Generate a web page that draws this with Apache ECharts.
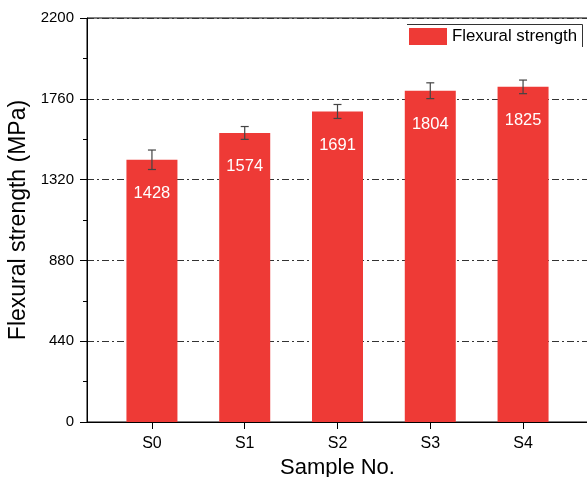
<!DOCTYPE html>
<html>
<head>
<meta charset="utf-8">
<script src="https://cdn.jsdelivr.net/npm/echarts@6/dist/echarts.min.js"></script>
<style>
html,body{margin:0;padding:0;background:#fff;}
#c{width:587px;height:477px;}
</style>
</head>
<body>
<div id="c"></div>
<script>
const categories = ['S0', 'S1', 'S2', 'S3', 'S4'];
const strength = [1428, 1574, 1691, 1804, 1825];
const errors = [53, 35, 38, 43, 37];
const yTicks = [0, 440, 880, 1320, 1760, 2200];

const FONT = "'Liberation Sans', Arial, sans-serif";
const barData = strength.map((v, i) => [i, v]);
const errData = strength.map((v, i) => [i, v - errors[i], v + errors[i]]);

const chart = echarts.init(document.getElementById('c'));
chart.setOption({
  animation: false,
  backgroundColor: '#fff',
  textStyle: { fontFamily: FONT },
  grid: {
    left: 87, right: -1, top: 18, bottom: 55,
    outerBoundsMode: 'none',
    containLabel: false,
    show: true, borderColor: '#000', borderWidth: 1, backgroundColor: 'transparent'
  },
  legend: {
    data: ['Flexural strength'],
    left: 409, top: 28,
    itemWidth: 38, itemHeight: 17,
    icon: 'rect',
    padding: 0,
    textStyle: { fontSize: 16.8, color: '#000', fontFamily: FONT }
  },
  graphic: [
    { type: 'polyline', shape: { points: [[407, 24.5], [582.5, 24.5], [582.5, 47]] },
      style: { stroke: '#333', lineWidth: 1, fill: null }, silent: true }
  ],
  xAxis: {
    type: 'value',
    min: -0.7, max: 4.7,
    name: 'Sample No.',
    nameLocation: 'middle',
    nameGap: 34,
    nameTextStyle: { fontSize: 22, color: '#000', fontFamily: FONT },
    axisLine: { show: true, onZero: false, lineStyle: { color: '#000', width: 1 } },
    axisTick: { show: true, length: 7, inside: false, customValues: [0, 1, 2, 3, 4], lineStyle: { color: '#000' } },
    axisLabel: {
      customValues: [0, 1, 2, 3, 4],
      formatter: v => categories[Math.round(v)],
      fontSize: 16, color: '#000', margin: 14, fontFamily: FONT
    },
    splitLine: { show: false }
  },
  yAxis: {
    type: 'value',
    min: 0, max: 2200, interval: 440,
    name: 'Flexural strength (MPa)',
    nameLocation: 'middle',
    nameGap: 54,
    nameRotate: 90,
    nameTextStyle: { fontSize: 23, color: '#000', fontFamily: FONT },
    axisLine: { show: true, onZero: false, lineStyle: { color: '#000', width: 1 } },
    axisTick: { show: true, length: 7, inside: false, lineStyle: { color: '#000' } },
    minorTick: { show: true, splitNumber: 2, length: 4, lineStyle: { color: '#000' } },
    axisLabel: { fontSize: 15, color: '#000', margin: 13, fontFamily: FONT,
      formatter: v => (yTicks.indexOf(v) >= 0 ? String(v) : '') },
    splitLine: { show: true, lineStyle: { color: '#333', width: 1, type: [7, 3, 2, 3] } }
  },
  series: [
    {
      name: 'Flexural strength',
      type: 'bar',
      data: barData,
      barWidth: 51,
      itemStyle: { color: '#EE3A36' },
      label: {
        show: true, position: 'insideTop', distance: 25,
        color: '#fff', fontSize: 16.5, fontFamily: FONT,
        formatter: p => String(p.value[1])
      },
      z: 2
    },
    {
      name: 'error',
      type: 'custom',
      data: errData,
      z: 3,
      renderItem: function (params, api) {
        const x = api.value(0);
        const lo = api.coord([x, api.value(1)]);
        const hi = api.coord([x, api.value(2)]);
        const hw = 4;
        const style = { stroke: '#444', lineWidth: 1.2 };
        return {
          type: 'group',
          children: [
            { type: 'line', shape: { x1: lo[0], y1: lo[1], x2: hi[0], y2: hi[1] }, style: style },
            { type: 'line', shape: { x1: lo[0] - hw, y1: lo[1], x2: lo[0] + hw, y2: lo[1] }, style: style },
            { type: 'line', shape: { x1: hi[0] - hw, y1: hi[1], x2: hi[0] + hw, y2: hi[1] }, style: style }
          ]
        };
      }
    }
  ]
});
</script>
</body>
</html>
